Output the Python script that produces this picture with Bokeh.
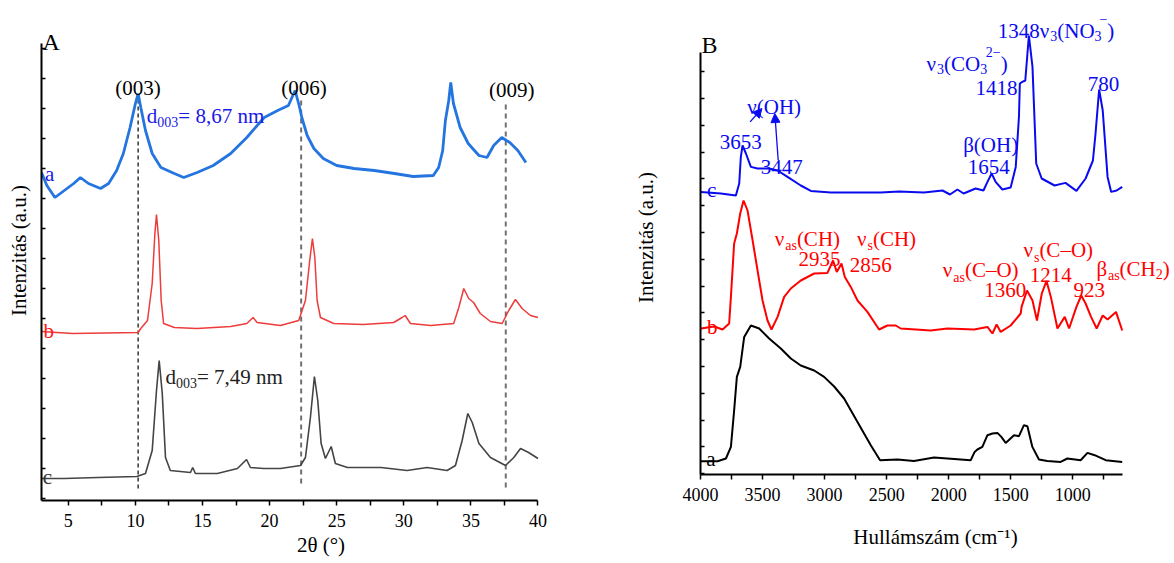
import numpy as np
from bokeh.plotting import figure
from bokeh.layouts import row, column
from bokeh.models import Range1d, FixedTicker, Label, Arrow, NormalHead
from bokeh.embed import file_html
from bokeh.resources import INLINE

FONT = "Liberation Serif"

# ---------------- Panel A: XRD ----------------
xrd_a_x = [3.0, 3.4, 4.0, 4.7, 5.4, 5.9, 6.5, 7.4, 8.0, 8.6, 9.1, 9.6, 10.0, 10.2, 10.4, 10.75,
           11.25, 11.9, 12.9, 13.6, 14.6, 15.8, 17.1, 18.3, 19.6, 20.6, 21.4, 21.9, 22.2, 22.4,
           22.8, 23.3, 24.0, 25.0, 26.3, 27.8, 29.3, 30.7, 32.2, 32.6, 32.9, 33.1, 33.35, 33.5,
           33.7, 34.2, 34.8, 35.6, 36.2, 36.7, 37.3, 37.9, 38.5, 39.1]
xrd_a_y = [328, 315, 303, 310, 317, 323, 317, 312, 317, 330, 347, 373, 397, 407, 393, 370,
           347, 333, 327, 323, 328, 335, 347, 363, 383, 390, 395, 410, 395, 383,
           365, 352, 342, 335, 332, 330, 327, 324, 325, 333, 350, 380, 400, 418,
           397, 373, 357, 345, 343, 355, 363, 358, 350, 338]

xrd_b_x = [3.0, 5.3, 10.2, 10.4, 10.9, 11.25, 11.45, 11.57, 11.74, 11.92, 12.1, 12.9, 14.6,
           17.1, 18.3, 18.77, 19.07, 20.8, 22.17, 22.67, 22.99, 23.19, 23.37, 23.54, 23.79,
           24.78, 27.0, 29.25, 29.88, 30.1, 30.5, 32.0, 33.72, 34.1, 34.47, 34.84, 35.2, 35.7,
           36.46, 37.33, 37.82, 38.32, 38.82, 39.44, 40.0]
xrd_b_y = [169, 167, 168, 172, 180, 217, 267, 286, 260, 200, 177, 173, 172,
           174, 177, 183, 178, 175, 180, 200, 240, 262, 243, 200, 183,
           177, 176, 178, 183, 185, 177, 175, 177, 193, 212, 202, 198, 187,
           179, 177, 190, 201, 192, 185, 183]

xrd_c_x = [3.0, 4.7, 7.2, 10.1, 10.75, 11.25, 11.57, 11.77, 12.0, 12.24, 12.6, 14.1, 14.27,
           14.47, 16.1, 17.6, 18.28, 18.57, 19.56, 20.8, 22.3, 22.67, 23.04, 23.34, 23.59,
           23.84, 24.16, 24.59, 24.9, 25.8, 28.3, 30.25, 31.74, 33.23, 33.85, 34.35, 34.77,
           35.1, 35.6, 36.46, 37.58, 38.2, 38.7, 39.3, 40.0]
xrd_c_y = [22, 22, 23, 24, 27, 50, 110, 140, 107, 43, 30, 28, 33,
           27, 27, 32, 41, 33, 32, 32, 35, 43, 83, 124, 100,
           57, 42, 54, 37, 33, 33, 30, 33, 30, 35, 60, 87,
           78, 57, 43, 35, 43, 52, 48, 42]

refl_pos = [10.2, 22.35, 37.6]
refl_top = [400, 403, 400]
refl_bot = [12, 17, 13]
refl_names = ["(003)", "(006)", "(009)"]
refl_label_x = [10.2, 22.57, 38.05]
refl_label_y = [412.5, 412.5, 410.7]

xrd_ticks = [5, 10, 15, 20, 25, 30, 35, 40]
xrd_minor = [7.5, 12.5, 17.5, 22.5, 27.5, 32.5, 37.5]

# ---------------- Panel B: FTIR ----------------
ir_c_w = [3997, 3836, 3715, 3688, 3675, 3661, 3634, 3594, 3540, 3447, 3379, 3299, 3192, 3111,
          2950, 2548, 2400, 2200, 2050, 1990, 1930, 1880, 1783, 1720, 1688, 1654, 1622, 1568,
          1501, 1460, 1434, 1427, 1407, 1383, 1354, 1325, 1295, 1251, 1147, 1059, 971, 897,
          838, 817, 788, 759, 720, 691, 647, 602]
ir_c_y = [282.6, 281, 279, 291, 317.6, 329, 321, 307.6, 306, 306, 304, 297.6, 289, 283.6,
          282, 282, 283, 282, 284, 280, 285, 281, 286, 284, 292.6, 301, 292.6, 285,
          287, 307.6, 358, 391, 392.6, 394, 439, 407.6, 311, 296, 289, 291.6, 283.6, 296,
          314, 341, 385, 364, 297.6, 282.6, 284, 287.6]

ir_b_w = [3997, 3890, 3822, 3769, 3755, 3729, 3707, 3680, 3653, 3621, 3580, 3527, 3500, 3460,
          3428, 3379, 3326, 3272, 3192, 3084, 2977, 2932, 2902, 2864, 2837, 2789, 2735, 2655,
          2561, 2494, 2427, 2387, 2145, 2010, 1796, 1688, 1648, 1614, 1581, 1501, 1420, 1413,
          1369, 1325, 1289, 1250, 1212, 1177, 1124, 1065, 1030, 971, 932, 897, 853, 808, 759,
          720, 652, 602]
ir_b_y = [146, 148, 145, 151, 177.6, 231, 241, 261, 274, 264, 234, 194, 174, 154,
          145, 157.6, 177.6, 186, 194, 201, 201.6, 214, 202.6, 211, 197.6, 187.6, 174, 162.6,
          145, 149, 149, 146, 144, 146, 145, 147.6, 141, 150, 142.6, 149, 161, 167.6,
          184, 174, 154, 181, 193.6, 177.6, 146, 157.6, 146, 167.6, 179, 171, 157.6, 146, 159,
          155, 162.6, 144]

ir_a_w = [3997, 3862, 3795, 3755, 3729, 3707, 3680, 3648, 3594, 3527, 3447, 3353, 3272, 3192,
          3084, 3004, 2923, 2843, 2735, 2628, 2553, 2413, 2280, 2118, 1823, 1791, 1769, 1729,
          1688, 1648, 1608, 1576, 1541, 1474, 1434, 1394, 1366, 1326, 1273, 1205, 1098, 1044,
          937, 882, 824, 735, 602]
ir_a_y = [13.3, 13.3, 16, 27.6, 64, 97.6, 107.6, 137.6, 149, 146, 136, 126, 116, 109,
          104, 97.6, 88, 76, 52.6, 29.3, 14.3, 15, 13.6, 17, 14.3, 22.6, 25, 27.6,
          39.3, 41, 41.6, 37.6, 31.6, 39.3, 38.3, 49.3, 48.3, 27.6, 15, 13.6, 12.6, 16,
          14.3, 21.6, 19.3, 14.3, 12.6]

ir_ticks = [4000, 3500, 3000, 2500, 2000, 1500, 1000]
ir_minor = [3750, 3250, 2750, 2250, 1750, 1250, 750]

# ---------------- text helpers ----------------
EM = {'0': .5, '1': .5, '2': .5, '3': .5, '4': .5, '5': .5, '6': .5, '7': .5, '8': .5, '9': .5,
      ' ': .25, '(': .333, ')': .333, '=': .564, ',': .25, '.': .25, 'n': .5, 'm': .778,
      'd': .5, 'a': .444, 's': .389, 'u': .5, 'ν': .5, 'β': .55, 'O': .722, 'H': .722,
      'C': .667, 'N': .722, '–': .5, '−': .564}


def tw(s, size):
    return sum(EM.get(ch, .5) for ch in s) * size


def rich(p, x, y, segs, color, align="left"):
    """segs: (text, size_px, dy_px[, advance_factor])"""
    segs = [(s + (1.0,)) if len(s) == 3 else s for s in segs]
    total = sum(tw(t, sz) * adv for t, sz, dy, adv in segs)
    off = -total / 2 if align == "center" else 0.0
    for t, sz, dy, adv in segs:
        p.add_layout(Label(x=x, y=y, x_offset=off, y_offset=dy, text=t,
                           text_font=FONT, text_font_size=f"{sz}px", text_color=color,
                           text_baseline="alphabetic", text_align="left"))
        off += tw(t, sz) * adv


def plain(p, x, y, t, color, size=21, align="left"):
    p.add_layout(Label(x=x, y=y, text=t, text_font=FONT, text_font_size=f"{size}px",
                       text_color=color, text_align=align, text_baseline="alphabetic"))


def style_axes(p, xticks, xminor, yminor, xbounds, ybounds, xtitle, ytitle,
               xstand, ystand):
    p.xaxis.ticker = FixedTicker(ticks=xticks, minor_ticks=xminor)
    p.yaxis.ticker = FixedTicker(ticks=[], minor_ticks=yminor)
    p.xaxis.bounds = xbounds
    p.yaxis.bounds = ybounds
    for ax in (p.xaxis, p.yaxis):
        ax.axis_line_width = 2
        ax.axis_line_color = "black"
        ax.major_tick_line_width = 1.5
        ax.major_tick_line_color = "black"
        ax.minor_tick_line_width = 1.5
        ax.minor_tick_line_color = "black"
        ax.major_label_text_font = FONT
        ax.major_label_text_color = "black"
        ax.axis_label_text_font = FONT
        ax.axis_label_text_font_size = "21px"
        ax.axis_label_text_font_style = "normal"
        ax.axis_label_text_color = "black"
    p.xaxis.major_tick_out = 5
    p.xaxis.major_tick_in = 0
    p.xaxis.minor_tick_out = 5
    p.xaxis.minor_tick_in = 0
    p.xaxis.major_label_text_font_size = "18px"
    p.xaxis.major_label_standoff = 8
    p.xaxis.axis_label = xtitle
    p.xaxis.axis_label_standoff = xstand
    p.yaxis.minor_tick_in = 4
    p.yaxis.minor_tick_out = 0
    p.yaxis.major_tick_in = 0
    p.yaxis.major_tick_out = 0
    p.yaxis.axis_label = ytitle
    p.yaxis.axis_label_standoff = ystand
    p.xgrid.visible = False
    p.ygrid.visible = False
    p.outline_line_color = None


# ---------------- Figure A ----------------
pa = figure(width=600, height=562, min_border_left=41, min_border_right=0,
            min_border_top=0, min_border_bottom=62,
            x_range=Range1d(3, 44.66), y_range=Range1d(0, 500),
            output_backend="svg", toolbar_location=None)
style_axes(pa, xrd_ticks, xrd_minor, [2 + 30 * k for k in range(16)], (3, 40), (0, 457),
           "2θ (°)", "Intenzitás (a.u.)", 3, 11)

for xp, yt, yb, col, w, dash in zip(refl_pos, refl_top, refl_bot,
                                   ["black", "#707070", "#707070"], [1.2, 2, 2],
                                   ["4 3", "5 4", "5 4"]):
    pa.segment(x0=[xp], y0=[yb], x1=[xp], y1=[yt], line_color=col, line_width=w, line_dash=dash)

pa.line(xrd_a_x, xrd_a_y, line_color="#2475e0", line_width=2.8)
pa.line(xrd_b_x, xrd_b_y, line_color="#ee3b3b", line_width=1.5)
pa.line(xrd_c_x, xrd_c_y, line_color="#444444", line_width=1.6)

for nm, lx, ly in zip(refl_names, refl_label_x, refl_label_y):
    plain(pa, lx, ly, nm, "black", 21, align="center")

rich(pa, 10.85, 385, [("d", 21, 0), ("003", 14, -6), ("= 8,67 nm", 21, 0)], "#1a1ae6")
rich(pa, 12.24, 124, [("d", 21, 0), ("003", 14, -6), ("= 7,49 nm", 21, 0)], "#222222")
plain(pa, 3.27, 326.7, "a", "#1a1ae6", 21)
plain(pa, 3.15, 170, "b", "#ff1a1a", 21)
plain(pa, 3.1, 23.3, "c", "#333333", 21)
plain(pa, 3.07, 458.3, "A", "black", 24)

# ---------------- Figure B ----------------
pb = figure(width=570, height=562, min_border_left=100, min_border_right=0,
            min_border_top=0, min_border_bottom=88,
            x_range=Range1d(4000, 213), y_range=Range1d(0, 474),
            output_backend="svg", toolbar_location=None)
style_axes(pb, ir_ticks, ir_minor, [0.9 + 26.8 * k for k in range(16)], (600, 4000),
           (0, 422.3), "Hullámszám (cm⁻¹)", "Intenzitás (a.u.)", 21, 43)

BLUE = "#0a0af0"
RED = "#ff0000"
pb.line(ir_c_w, ir_c_y, line_color=BLUE, line_width=2)
pb.line(ir_b_w, ir_b_y, line_color=RED, line_width=2)
pb.line(ir_a_w, ir_a_y, line_color="black", line_width=2)

plain(pb, 3948, 284.3, "c", BLUE)
plain(pb, 3948, 147.6, "b", RED)
plain(pb, 3953, 16, "a", "black")
plain(pb, 3623, 368, "ν(OH)", BLUE)
plain(pb, 3675, 332.6, "3653", BLUE, align="center")
plain(pb, 3345, 307.6, "3447", BLUE, align="center")
pb.add_layout(Arrow(end=NormalHead(size=9, fill_color=BLUE, line_color=BLUE),
                    x_start=3600, y_start=352.6, x_end=3505, y_end=366,
                    line_color=BLUE, line_width=1.3))
pb.add_layout(Arrow(end=NormalHead(size=9, fill_color=BLUE, line_color=BLUE),
                    x_start=3374, y_start=314.3, x_end=3401, y_end=361,
                    line_color=BLUE, line_width=1.3))
plain(pb, 1662, 329.3, "β(OH)", BLUE, align="center")
plain(pb, 1678, 307.6, "1654", BLUE, align="center")
rich(pb, 2179, 411, [("ν", 21, 0), ("3", 14, -5), ("(CO", 21, 0), ("3", 14, -5, 0.8),
                     ("2−", 14, 12), (")", 21, 0)], BLUE)
plain(pb, 1614, 387, "1418", BLUE, align="center")
rich(pb, 1605, 443.6, [("1348ν", 21, 0), ("3", 14, -5), ("(NO", 21, 0), ("3", 14, -5, 0.7),
                       ("−", 14, 12), (")", 21, 0)], BLUE)
plain(pb, 753, 391, "780", BLUE, align="center")

rich(pb, 3402, 236, [("ν", 21, 0), ("as", 14, -7), ("(CH)", 21, 0)], RED)
plain(pb, 3041, 216, "2935", RED, align="center")
rich(pb, 2739, 236, [("ν", 21, 0), ("s", 14, -7), ("(CH)", 21, 0)], RED)
plain(pb, 2628, 209.3, "2856", RED, align="center")
rich(pb, 1398, 224.3, [("ν", 21, 0), ("s", 14, -7), ("(C–O)", 21, 0)], RED)
rich(pb, 2048, 204.3, [("ν", 21, 0), ("as", 14, -7), ("(C–O)", 21, 0)], RED)
plain(pb, 1177, 199.3, "1214", RED, align="center")
plain(pb, 1545, 184.3, "1360", RED, align="center")
plain(pb, 868, 185, "923", RED, align="center")
rich(pb, 810, 206, [("β", 21, 0), ("as", 14, -7), ("(CH", 21, 0), ("2", 14, -5), (")", 21, 0)], RED)

plain(pb, 3992, 429.3, "B", "black", 24)

layout = row(column(pa), column(pb))
open("out.html", "w").write(file_html(layout, INLINE))
